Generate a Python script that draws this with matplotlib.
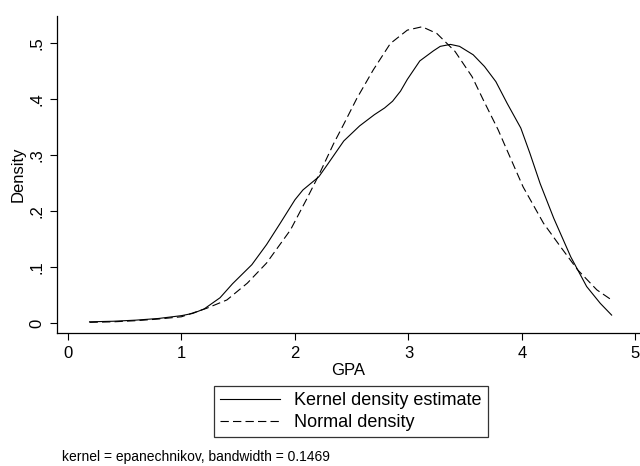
import numpy as np
import matplotlib.pyplot as plt

plt.rcParams['font.family'] = ['Liberation Sans', 'DejaVu Sans']
plt.rcParams['lines.scale_dashes'] = False

# kernel density estimate of GPA
kde_x = [0.19, 0.4, 0.6, 0.8, 1.0, 1.1, 1.2, 1.34, 1.45, 1.62, 1.75, 1.87, 2.0,
         2.07, 2.21, 2.29, 2.43, 2.57, 2.7, 2.79, 2.86, 2.93, 2.99, 3.1, 3.22,
         3.28, 3.37, 3.45, 3.57, 3.67, 3.77, 3.87, 3.99, 4.07, 4.16, 4.28, 4.43,
         4.57, 4.69, 4.79]
kde_y = [0.002, 0.003, 0.005, 0.008, 0.013, 0.017, 0.025, 0.045, 0.07, 0.104,
         0.14, 0.178, 0.22, 0.2375, 0.261, 0.284, 0.325, 0.352, 0.372, 0.384,
         0.396, 0.414, 0.435, 0.468, 0.486, 0.494, 0.4975, 0.494, 0.479, 0.458,
         0.431, 0.392, 0.348, 0.303, 0.249, 0.187, 0.118, 0.065, 0.035, 0.014]

# normal density with the same mean and sd
norm_x = [0.19, 0.4, 0.6, 0.8, 1.0, 1.22, 1.4, 1.58, 1.75, 1.96, 2.1, 2.21,
          2.34, 2.43, 2.545, 2.69, 2.84, 2.99, 3.12, 3.25, 3.34, 3.41, 3.56,
          3.66, 3.79, 3.85, 4.01, 4.19, 4.34, 4.49, 4.66, 4.79]
norm_y = [0.001, 0.002, 0.004, 0.007, 0.011, 0.026, 0.041, 0.071, 0.107, 0.166,
          0.22, 0.264, 0.32, 0.355, 0.401, 0.452, 0.499, 0.523, 0.529, 0.517,
          0.499, 0.485, 0.44, 0.398, 0.345, 0.317, 0.243, 0.178, 0.136, 0.095,
          0.059, 0.041]

x_ticks = [0, 1, 2, 3, 4, 5]
y_ticks = [0, 0.1, 0.2, 0.3, 0.4, 0.5]
y_labels = ['0', '.1', '.2', '.3', '.4', '.5']

fig = plt.figure(figsize=(6.4, 4.66), dpi=100)
ax = fig.add_axes([0.089, 0.2854, 0.911, 0.680])

ax.plot(kde_x, kde_y, color='black', lw=0.8, label='Kernel density estimate')
ax.plot(norm_x, norm_y, color='black', lw=0.8, linestyle=(0, (6, 3)),
        label='Normal density')

ax.set_xlim(-0.097, 5.04)
ax.set_ylim(-0.018, 0.548)
ax.set_xticks(x_ticks)
ax.set_yticks(y_ticks)
ax.set_yticklabels(y_labels, rotation=90, va='center')
ax.tick_params(labelsize=12, length=5, width=0.8, pad=4)
for s in ['top', 'right']:
    ax.spines[s].set_visible(False)
for s in ['left', 'bottom']:
    ax.spines[s].set_linewidth(0.9)

ax.set_xlabel('GPA', fontsize=12, labelpad=2)
ax.set_ylabel('Density', fontsize=12, labelpad=3)

leg = fig.legend(loc='upper center', bbox_to_anchor=(351 / 640, 1 - 386 / 466),
                 fontsize=13, frameon=True, fancybox=False, edgecolor='black',
                 handlelength=3.3, labelspacing=0.25, borderpad=0.35,
                 handletextpad=0.8, borderaxespad=0)
leg.get_frame().set_linewidth(0.9)

fig.text(62 / 640, 1 - 457 / 466, 'kernel = epanechnikov, bandwidth = 0.1469',
         fontsize=10, va='center', ha='left')

fig.savefig('out.png', dpi=100)
